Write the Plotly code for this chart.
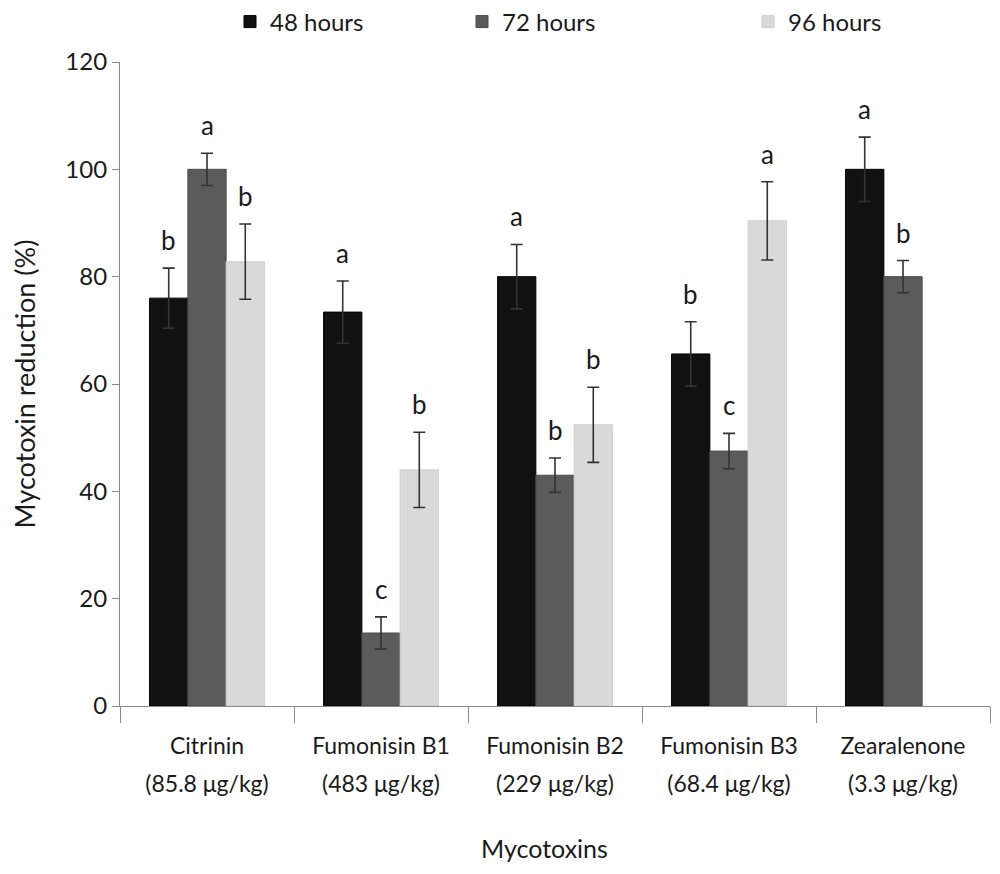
import plotly.graph_objects as go

cat_names = ["Citrinin", "Fumonisin B1", "Fumonisin B2", "Fumonisin B3", "Zearalenone"]
cat_conc = ["(85.8 μg/kg)", "(483 μg/kg)", "(229 μg/kg)", "(68.4 μg/kg)", "(3.3 μg/kg)"]
series_names = ["48 hours", "72 hours", "96 hours"]
vals_48 = [76.0, 73.4, 80.0, 65.6, 100.0]
vals_72 = [100.0, 13.6, 43.0, 47.5, 80.0]
vals_96 = [82.8, 44.0, 52.4, 90.4, None]
err_48 = [5.6, 5.8, 6.0, 6.0, 6.0]
err_72 = [3.0, 3.0, 3.2, 3.3, 3.0]
err_96 = [7.0, 7.0, 7.0, 7.3, None]
letters_48 = ["b", "a", "a", "b", "a"]
letters_72 = ["a", "c", "b", "c", "b"]
letters_96 = ["b", "b", "b", "a", None]

colors = ["#111111", "#5b5b5b", "#d9d9d9"]
line_colors = ["#000000", "#4a4a4a", "#d0d0d0"]
font_family = "Lato, sans-serif"
text_color = "#1a1a1a"

categories = [f"<span style='font-size:23px'>{n}</span><br><span style='font-size:23px'>{c}</span>"
              for n, c in zip(cat_names, cat_conc)]

bargap = 0.34
bar_w = (1 - bargap) / 3

legend_x_px = [230, 462, 748]
legend_ids = ["legend", "legend2", "legend3"]

fig = go.Figure()
all_vals = [vals_48, vals_72, vals_96]
all_errs = [err_48, err_72, err_96]
all_letters = [letters_48, letters_72, letters_96]
for k, name in enumerate(series_names):
    fig.add_trace(go.Bar(
        name=name, x=categories, y=all_vals[k], legend=legend_ids[k],
        marker=dict(color=colors[k], line=dict(color=line_colors[k], width=1)),
        error_y=dict(type="data", array=[e if e is not None else 0 for e in all_errs[k]],
                     visible=True, color="#333333", thickness=1.6, width=6),
    ))

annotations = []
for k in range(3):
    for i in range(len(categories)):
        v = all_vals[k][i]
        if v is None or all_letters[k][i] is None:
            continue
        annotations.append(dict(
            x=i + (k - 1) * bar_w, y=v + all_errs[k][i], xref="x", yref="y",
            text=all_letters[k][i], showarrow=False, yanchor="bottom", yshift=10,
            font=dict(size=26, color=text_color, family=font_family)))

annotations.append(dict(x=(544 - 120) / 870, y=-(848 - 706) / 644, xref="paper", yref="paper",
                        text="Mycotoxins", showarrow=False, xanchor="center", yanchor="middle",
                        font=dict(size=25)))

legend_common = dict(orientation="h", yref="container", y=1 - 14 / 874, yanchor="middle",
                     xanchor="left", font=dict(size=24), itemclick=False, itemwidth=30,
                     bgcolor="rgba(0,0,0,0)")
layout_legends = {}
for k, lid in enumerate(legend_ids):
    layout_legends[lid] = dict(legend_common, x=(legend_x_px[k] - 120) / 870)

fig.update_layout(
    width=1000, height=874,
    margin=dict(l=112, r=18, t=54, b=176, autoexpand=False),
    plot_bgcolor="white", paper_bgcolor="white",
    barmode="group", bargap=bargap, bargroupgap=0,
    font=dict(family=font_family, color=text_color, size=29),
    showlegend=True,
    yaxis=dict(range=[0, 120], tickvals=[0, 20, 40, 60, 80, 100, 120],
               showgrid=False, showline=True, linecolor="#8a8a8a", linewidth=1.2,
               ticks="outside", ticklen=7, tickcolor="#8a8a8a", automargin=False,
               tickfont=dict(size=24), zeroline=False,
               title=dict(text="Mycotoxin reduction (%)", font=dict(size=27), standoff=24)),
    xaxis=dict(showgrid=False, showline=True, linecolor="#8a8a8a", linewidth=1.2,
               ticks="outside", ticklen=16, tickcolor="#8a8a8a", tickson="boundaries",
               automargin=False, ticklabelstandoff=12,
               tickfont=dict(size=29)),
    annotations=annotations,
    **layout_legends,
)
fig.write_html("out.html")
